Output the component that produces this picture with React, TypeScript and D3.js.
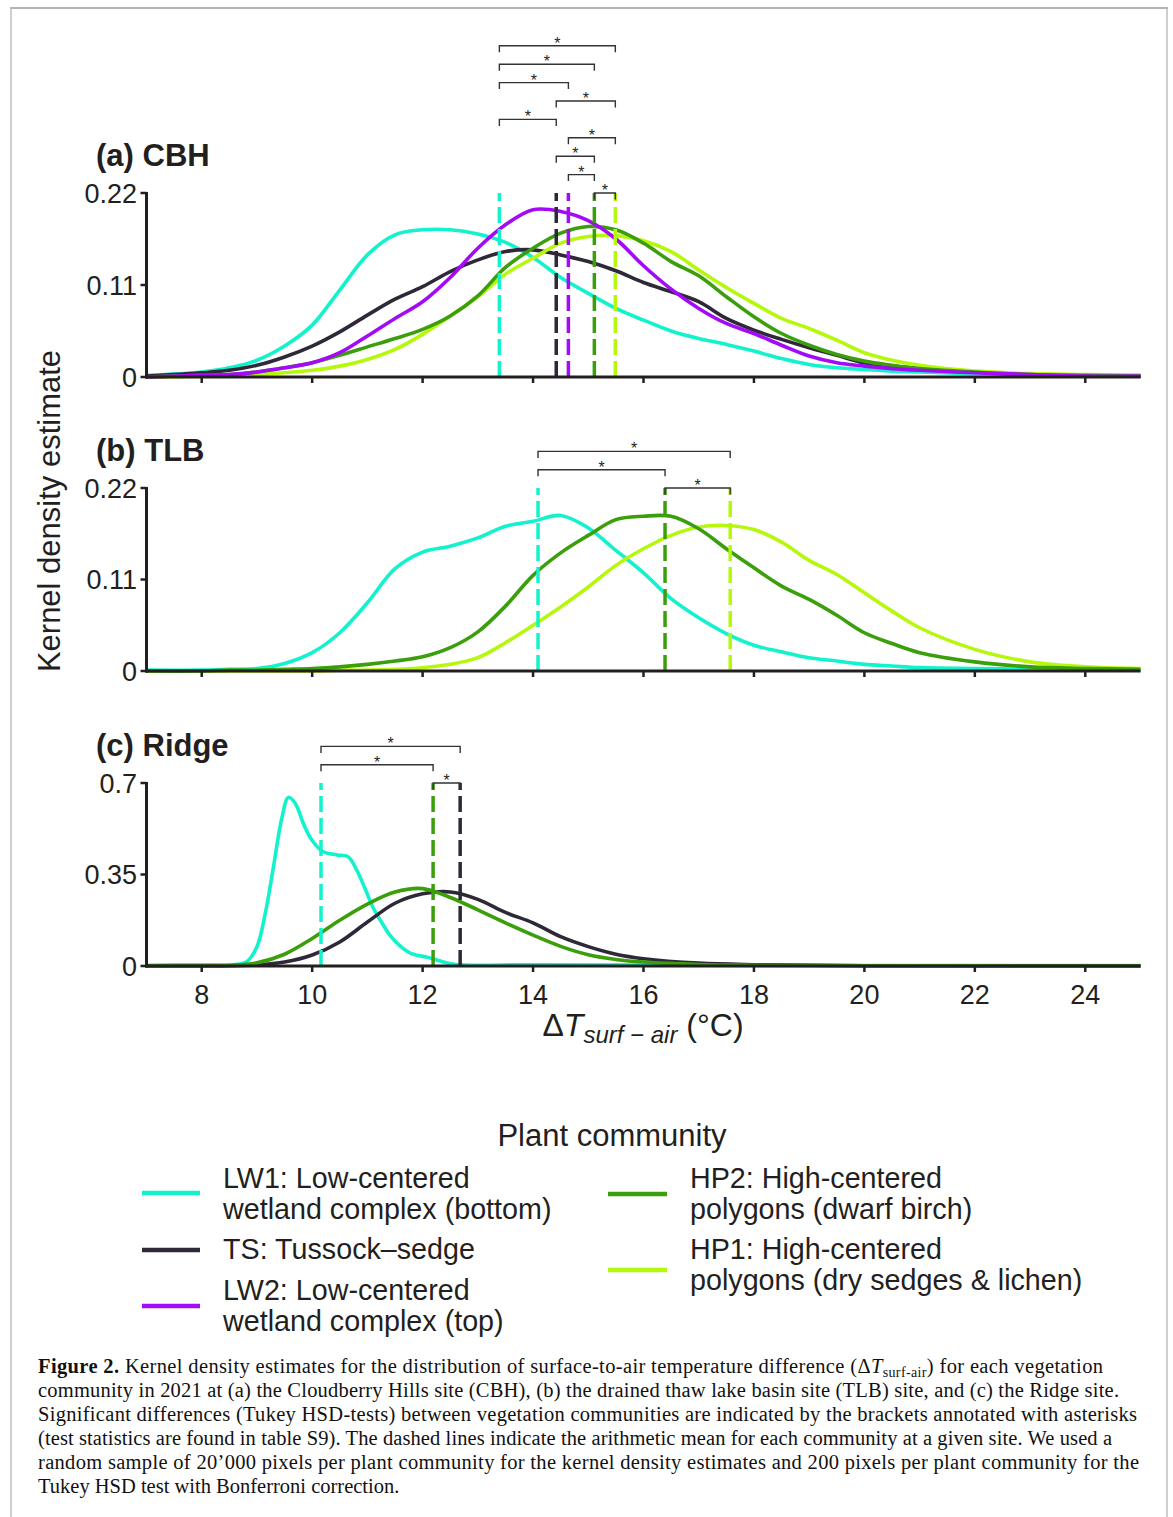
import React from 'react';
import * as d3 from 'd3';

const W = 1173;
const H = 1517;

// ---------- data ----------
const xTicks = [8, 10, 12, 14, 16, 18, 20, 22, 24];
const communities = ['LW1', 'TS', 'LW2', 'HP2', 'HP1'];
const colors: Record<string, string> = {
  LW1: '#12f2cd',
  TS: '#2f2838',
  LW2: '#a30af5',
  HP2: '#3b9f0b',
  HP1: '#b5f80b',
};
const legendLabels: Record<string, string[]> = {
  LW1: ['LW1: Low-centered', 'wetland complex (bottom)'],
  TS: ['TS: Tussock\u2013sedge'],
  LW2: ['LW2: Low-centered', 'wetland complex (top)'],
  HP2: ['HP2: High-centered', 'polygons (dwarf birch)'],
  HP1: ['HP1: High-centered', 'polygons (dry sedges & lichen)'],
};

const xGrid = [7, 8, 8.5, 9, 9.5, 10, 10.5, 11, 11.5, 12, 12.5, 13, 13.5, 14, 14.5, 15, 15.5, 16, 16.5, 17, 17.5, 18, 18.5, 19, 19.5, 20, 20.5, 21, 22, 23, 24, 25];

// (a) CBH
const cbhLW1 = [0.002, 0.006, 0.011, 0.020, 0.037, 0.062, 0.104, 0.146, 0.170, 0.176, 0.176, 0.171, 0.161, 0.143, 0.119, 0.100, 0.082, 0.068, 0.055, 0.046, 0.039, 0.031, 0.022, 0.015, 0.011, 0.009, 0.007, 0.006, 0.004, 0.003, 0.002, 0.002];
const cbhTS = [0.001, 0.005, 0.008, 0.014, 0.024, 0.037, 0.054, 0.074, 0.093, 0.108, 0.126, 0.140, 0.150, 0.152, 0.146, 0.138, 0.127, 0.113, 0.102, 0.090, 0.070, 0.056, 0.045, 0.035, 0.026, 0.017, 0.013, 0.010, 0.006, 0.003, 0.002, 0.001];
const cbhLW2 = [0, 0.002, 0.003, 0.006, 0.011, 0.017, 0.029, 0.049, 0.070, 0.090, 0.119, 0.154, 0.182, 0.200, 0.198, 0.187, 0.165, 0.133, 0.105, 0.082, 0.064, 0.052, 0.038, 0.025, 0.017, 0.013, 0.010, 0.008, 0.005, 0.003, 0.001, 0.001];
const cbhHP2 = [0, 0.002, 0.003, 0.006, 0.011, 0.017, 0.026, 0.036, 0.046, 0.057, 0.073, 0.097, 0.131, 0.154, 0.172, 0.180, 0.176, 0.160, 0.138, 0.121, 0.096, 0.072, 0.052, 0.038, 0.027, 0.019, 0.014, 0.010, 0.006, 0.003, 0.002, 0.001];
const cbhHP1 = [0, 0.001, 0.002, 0.003, 0.005, 0.008, 0.013, 0.021, 0.033, 0.051, 0.073, 0.096, 0.123, 0.142, 0.160, 0.168, 0.169, 0.163, 0.150, 0.128, 0.107, 0.088, 0.070, 0.058, 0.044, 0.029, 0.020, 0.014, 0.007, 0.004, 0.003, 0.002];
const cbhMeans: Record<string, number> = { LW1: 13.39, TS: 14.42, LW2: 14.64, HP2: 15.11, HP1: 15.49 };
const cbhBrackets = [['HP2', 'HP1'], ['LW2', 'HP2'], ['TS', 'HP2'], ['LW2', 'HP1'], ['LW1', 'TS'], ['TS', 'HP1'], ['LW1', 'LW2'], ['LW1', 'HP2'], ['LW1', 'HP1']];

// (b) TLB
const tlbLW1 = [0.001, 0.001, 0.002, 0.003, 0.009, 0.022, 0.046, 0.082, 0.123, 0.143, 0.150, 0.160, 0.174, 0.180, 0.187, 0.172, 0.145, 0.118, 0.087, 0.064, 0.045, 0.031, 0.023, 0.016, 0.012, 0.008, 0.006, 0.004, 0.003, 0.002, 0.001, 0.001];
const tlbHP2 = [0, 0, 0.001, 0.001, 0.002, 0.003, 0.005, 0.008, 0.012, 0.017, 0.028, 0.047, 0.078, 0.115, 0.142, 0.163, 0.182, 0.186, 0.186, 0.171, 0.147, 0.124, 0.102, 0.086, 0.067, 0.046, 0.033, 0.022, 0.011, 0.005, 0.003, 0.002];
const tlbHP1 = [0, 0, 0, 0, 0, 0, 0.001, 0.001, 0.002, 0.004, 0.008, 0.016, 0.034, 0.055, 0.077, 0.101, 0.127, 0.147, 0.163, 0.173, 0.175, 0.170, 0.155, 0.133, 0.116, 0.094, 0.072, 0.052, 0.026, 0.011, 0.005, 0.003];
const tlbMeans: Record<string, number> = { LW1: 14.09, HP2: 16.39, HP1: 17.57 };
const tlbBrackets = [['HP2', 'HP1'], ['LW1', 'HP2'], ['LW1', 'HP1']];

// (c) Ridge
const ridgeLW1Grid = [7, 8, 8.6, 8.8, 9, 9.15, 9.3, 9.45, 9.57, 9.7, 9.85, 10, 10.2, 10.45, 10.65, 10.8, 10.95, 11.1, 11.25, 11.4, 11.6, 11.8, 12.1, 12.3, 12.6, 14, 17, 20, 25];
const ridgeLW1 = [0.003, 0.005, 0.006, 0.014, 0.074, 0.2, 0.38, 0.565, 0.645, 0.62, 0.54, 0.48, 0.437, 0.425, 0.418, 0.37, 0.3, 0.225, 0.17, 0.12, 0.075, 0.047, 0.033, 0.02, 0.006, 0.005, 0.003, 0.002, 0.002];
const ridgeGrid = [7, 8, 8.5, 9, 9.5, 10, 10.5, 11, 11.5, 12, 12.5, 13, 13.5, 14, 14.5, 15, 15.5, 16, 17, 18, 20, 25];
const ridgeHP2 = [0, 0, 0.002, 0.012, 0.045, 0.105, 0.175, 0.237, 0.283, 0.296, 0.262, 0.215, 0.165, 0.118, 0.075, 0.043, 0.025, 0.015, 0.006, 0.003, 0.001, 0];
const ridgeTS = [0, 0, 0.001, 0.004, 0.015, 0.042, 0.092, 0.168, 0.240, 0.276, 0.283, 0.255, 0.205, 0.165, 0.112, 0.074, 0.045, 0.028, 0.011, 0.005, 0.001, 0];
const ridgeMeans: Record<string, number> = { LW1: 10.16, HP2: 12.19, TS: 12.68 };
const ridgeBrackets = [['HP2', 'TS'], ['LW1', 'HP2'], ['LW1', 'TS']];

const captionLines = [
  'community in 2021 at (a) the Cloudberry Hills site (CBH), (b) the drained thaw lake basin site (TLB) site, and (c) the Ridge site.',
  'Significant differences (Tukey HSD-tests) between vegetation communities are indicated by the brackets annotated with asterisks',
  '(test statistics are found in table S9). The dashed lines indicate the arithmetic mean for each community at a given site. We used a',
  'random sample of 20\u2019000 pixels per plant community for the kernel density estimates and 200 pixels per plant community for the',
  'Tukey HSD test with Bonferroni correction.',
];
const captionWidths = [1081, 1099, 1074, 1101, 0];

// ---------- layout ----------
const SANS = "'Liberation Sans', Arial, Helvetica, sans-serif";
const SERIF = "'Liberation Serif', 'Times New Roman', serif";
const INK = '#231f20';

type Series = { key: string; xs: number[]; ys: number[] };
type Panel = {
  title: string;
  y0: number;
  yTop: number;
  yMax: number;
  yTicks: number[];
  yLabels: string[];
  series: Series[];
  means: Record<string, number>;
  brackets: string[][];
  xLabels: boolean;
};

const panels: Panel[] = [
  {
    title: '(a) CBH', y0: 377, yTop: 193, yMax: 0.22, yTicks: [0, 0.11, 0.22], yLabels: ['0', '0.11', '0.22'],
    series: [
      { key: 'LW1', xs: xGrid, ys: cbhLW1 },
      { key: 'TS', xs: xGrid, ys: cbhTS },
      { key: 'HP1', xs: xGrid, ys: cbhHP1 },
      { key: 'HP2', xs: xGrid, ys: cbhHP2 },
      { key: 'LW2', xs: xGrid, ys: cbhLW2 },
    ],
    means: cbhMeans, brackets: cbhBrackets, xLabels: false,
  },
  {
    title: '(b) TLB', y0: 671, yTop: 488, yMax: 0.22, yTicks: [0, 0.11, 0.22], yLabels: ['0', '0.11', '0.22'],
    series: [
      { key: 'LW1', xs: xGrid, ys: tlbLW1 },
      { key: 'HP1', xs: xGrid, ys: tlbHP1 },
      { key: 'HP2', xs: xGrid, ys: tlbHP2 },
    ],
    means: tlbMeans, brackets: tlbBrackets, xLabels: false,
  },
  {
    title: '(c) Ridge', y0: 966, yTop: 783, yMax: 0.7, yTicks: [0, 0.35, 0.7], yLabels: ['0', '0.35', '0.7'],
    series: [
      { key: 'LW1', xs: ridgeLW1Grid, ys: ridgeLW1 },
      { key: 'TS', xs: ridgeGrid, ys: ridgeTS },
      { key: 'HP2', xs: ridgeGrid, ys: ridgeHP2 },
    ],
    means: ridgeMeans, brackets: ridgeBrackets, xLabels: true,
  },
];

const x = d3.scaleLinear().domain([7, 25]).range([146.5, 1140.5]);

function PanelView({ p }: { p: Panel }) {
  const y = d3.scaleLinear().domain([0, p.yMax]).range([p.y0, p.yTop]);
  const line = d3
    .line<[number, number]>()
    .x((d) => x(d[0]))
    .y((d) => Math.min(y(d[1]), p.y0))
    .curve(d3.curveCatmullRom.alpha(0.5));
  return (
    <g>
      <text x={96} y={p.yTop - 27} fontFamily={SANS} fontWeight="bold" fontSize={31} fill={INK}>
        {p.title}
      </text>
      {/* curves */}
      {p.series.map((s) => (
        <path
          key={s.key}
          d={line(s.xs.map((v, i) => [v, s.ys[i]] as [number, number])) || ''}
          fill="none"
          stroke={colors[s.key]}
          strokeWidth={3.6}
          strokeLinejoin="round"
        />
      ))}
      {/* mean lines */}
      {Object.keys(p.means).map((k) => (
        <line
          key={k}
          x1={x(p.means[k])}
          x2={x(p.means[k])}
          y1={y(0)}
          y2={y(p.yMax)}
          stroke={colors[k]}
          strokeWidth={3.5}
          strokeDasharray="16 6"
        />
      ))}
      {/* brackets */}
      {p.brackets.map((b, i) => {
        const yl = y(p.yMax * (1 + 0.1 * i));
        const xa = x(p.means[b[0]]);
        const xb = x(p.means[b[1]]);
        return (
          <g key={i}>
            <path
              d={`M${xa},${yl + 6.5}V${yl}H${xb}V${yl + 6.5}`}
              fill="none"
              stroke="#333"
              strokeWidth={1.4}
            />
            <text x={(xa + xb) / 2} y={yl + 3} textAnchor="middle" fontFamily={SANS} fontSize={16} fill={INK}>
              *
            </text>
          </g>
        );
      })}
      {/* y axis */}
      <line x1={x(7)} x2={x(7)} y1={y(p.yMax) - 1} y2={y(0) + 1.5} stroke={INK} strokeWidth={3} />
      {p.yTicks.map((t, i) => (
        <g key={t}>
          <line x1={x(7) - 6} x2={x(7)} y1={y(t)} y2={y(t)} stroke={INK} strokeWidth={2.5} />
          <text x={137} y={y(t) + 9.5} textAnchor="end" fontFamily={SANS} fontSize={27} fill={INK}>
            {p.yLabels[i]}
          </text>
        </g>
      ))}
      {/* x axis */}
      <line x1={x(7) - 1.5} x2={x(25)} y1={y(0)} y2={y(0)} stroke={INK} strokeWidth={3} />
      {xTicks.map((t) => (
        <g key={t}>
          <line x1={x(t)} x2={x(t)} y1={y(0)} y2={y(0) + 6} stroke={INK} strokeWidth={2.5} />
          {p.xLabels && (
            <text x={x(t)} y={y(0) + 38} textAnchor="middle" fontFamily={SANS} fontSize={27} fill={INK}>
              {t}
            </text>
          )}
        </g>
      ))}
    </g>
  );
}

function Legend() {
  const left = ['LW1', 'TS', 'LW2'];
  const right = ['HP2', 'HP1'];
  const leftRows = [
    { lineY: 1193, base: [1188, 1219] },
    { lineY: 1250, base: [1259] },
    { lineY: 1306, base: [1300, 1331] },
  ];
  const rightRows = [
    { lineY: 1194, base: [1188, 1219] },
    { lineY: 1270, base: [1259, 1290] },
  ];
  return (
    <g fontFamily={SANS} fill={INK}>
      <text x={612} y={1146} textAnchor="middle" fontSize={31}>
        Plant community
      </text>
      {left.map((k, i) => (
        <g key={k}>
          <line x1={142} x2={200} y1={leftRows[i].lineY} y2={leftRows[i].lineY} stroke={colors[k]} strokeWidth={4.5} />
          {legendLabels[k].map((t, j) => (
            <text key={j} x={223} y={leftRows[i].base[j]} fontSize={28.7}>
              {t}
            </text>
          ))}
        </g>
      ))}
      {right.map((k, i) => (
        <g key={k}>
          <line x1={608} x2={667} y1={rightRows[i].lineY} y2={rightRows[i].lineY} stroke={colors[k]} strokeWidth={4.5} />
          {legendLabels[k].map((t, j) => (
            <text key={j} x={690} y={rightRows[i].base[j]} fontSize={28.7}>
              {t}
            </text>
          ))}
        </g>
      ))}
    </g>
  );
}

function Caption() {
  return (
    <g fontFamily={SERIF} fontSize={20.5} fill="#111">
      <text x={38} y={1373} textLength={1065} lengthAdjust="spacing">
        <tspan fontWeight="bold">Figure 2.</tspan>
        <tspan> Kernel density estimates for the distribution of surface-to-air temperature difference (</tspan>
        <tspan>{'\u0394'}</tspan>
        <tspan fontStyle="italic">T</tspan>
        <tspan fontSize={14} dy={4}>surf-air</tspan>
        <tspan dy={-4}>) for each vegetation</tspan>
      </text>
      {captionLines.map((l, i) => (
        <text
          key={i}
          x={38}
          y={1397 + i * 24}
          textLength={captionWidths[i] || undefined}
          lengthAdjust={captionWidths[i] ? 'spacing' : undefined}
        >
          {l}
        </text>
      ))}
    </g>
  );
}

export default function App() {
  return (
    <svg
      width={W}
      height={H}
      viewBox={`0 0 ${W} ${H}`}
      style={{ position: 'absolute', left: 0, top: 0, background: '#fff' }}
    >
      <rect x={0} y={0} width={W} height={H} fill="#fff" />
      <rect x={11} y={8} width={1156} height={1540} fill="none" stroke="#cfcfcf" strokeWidth={2} />
      <line x1={10} x2={1168} y1={8} y2={8} stroke="#9a9a9a" strokeWidth={1.2} />
      {panels.map((p) => (
        <PanelView key={p.title} p={p} />
      ))}
      <text
        transform="translate(60,511) rotate(-90)"
        textAnchor="middle"
        fontFamily={SANS}
        fontSize={31}
        fill={INK}
      >
        Kernel density estimate
      </text>
      <text x={643} y={1036} textAnchor="middle" fontFamily={SANS} fontSize={32} fill={INK}>
        <tspan>{'\u0394'}</tspan>
        <tspan fontStyle="italic">T</tspan>
        <tspan fontStyle="italic" fontSize={24} dy={7}>{'surf \u2212 air'}</tspan>
        <tspan dy={-7}>{' (\u00b0C)'}</tspan>
      </text>
      <Legend />
      <Caption />
    </svg>
  );
}
